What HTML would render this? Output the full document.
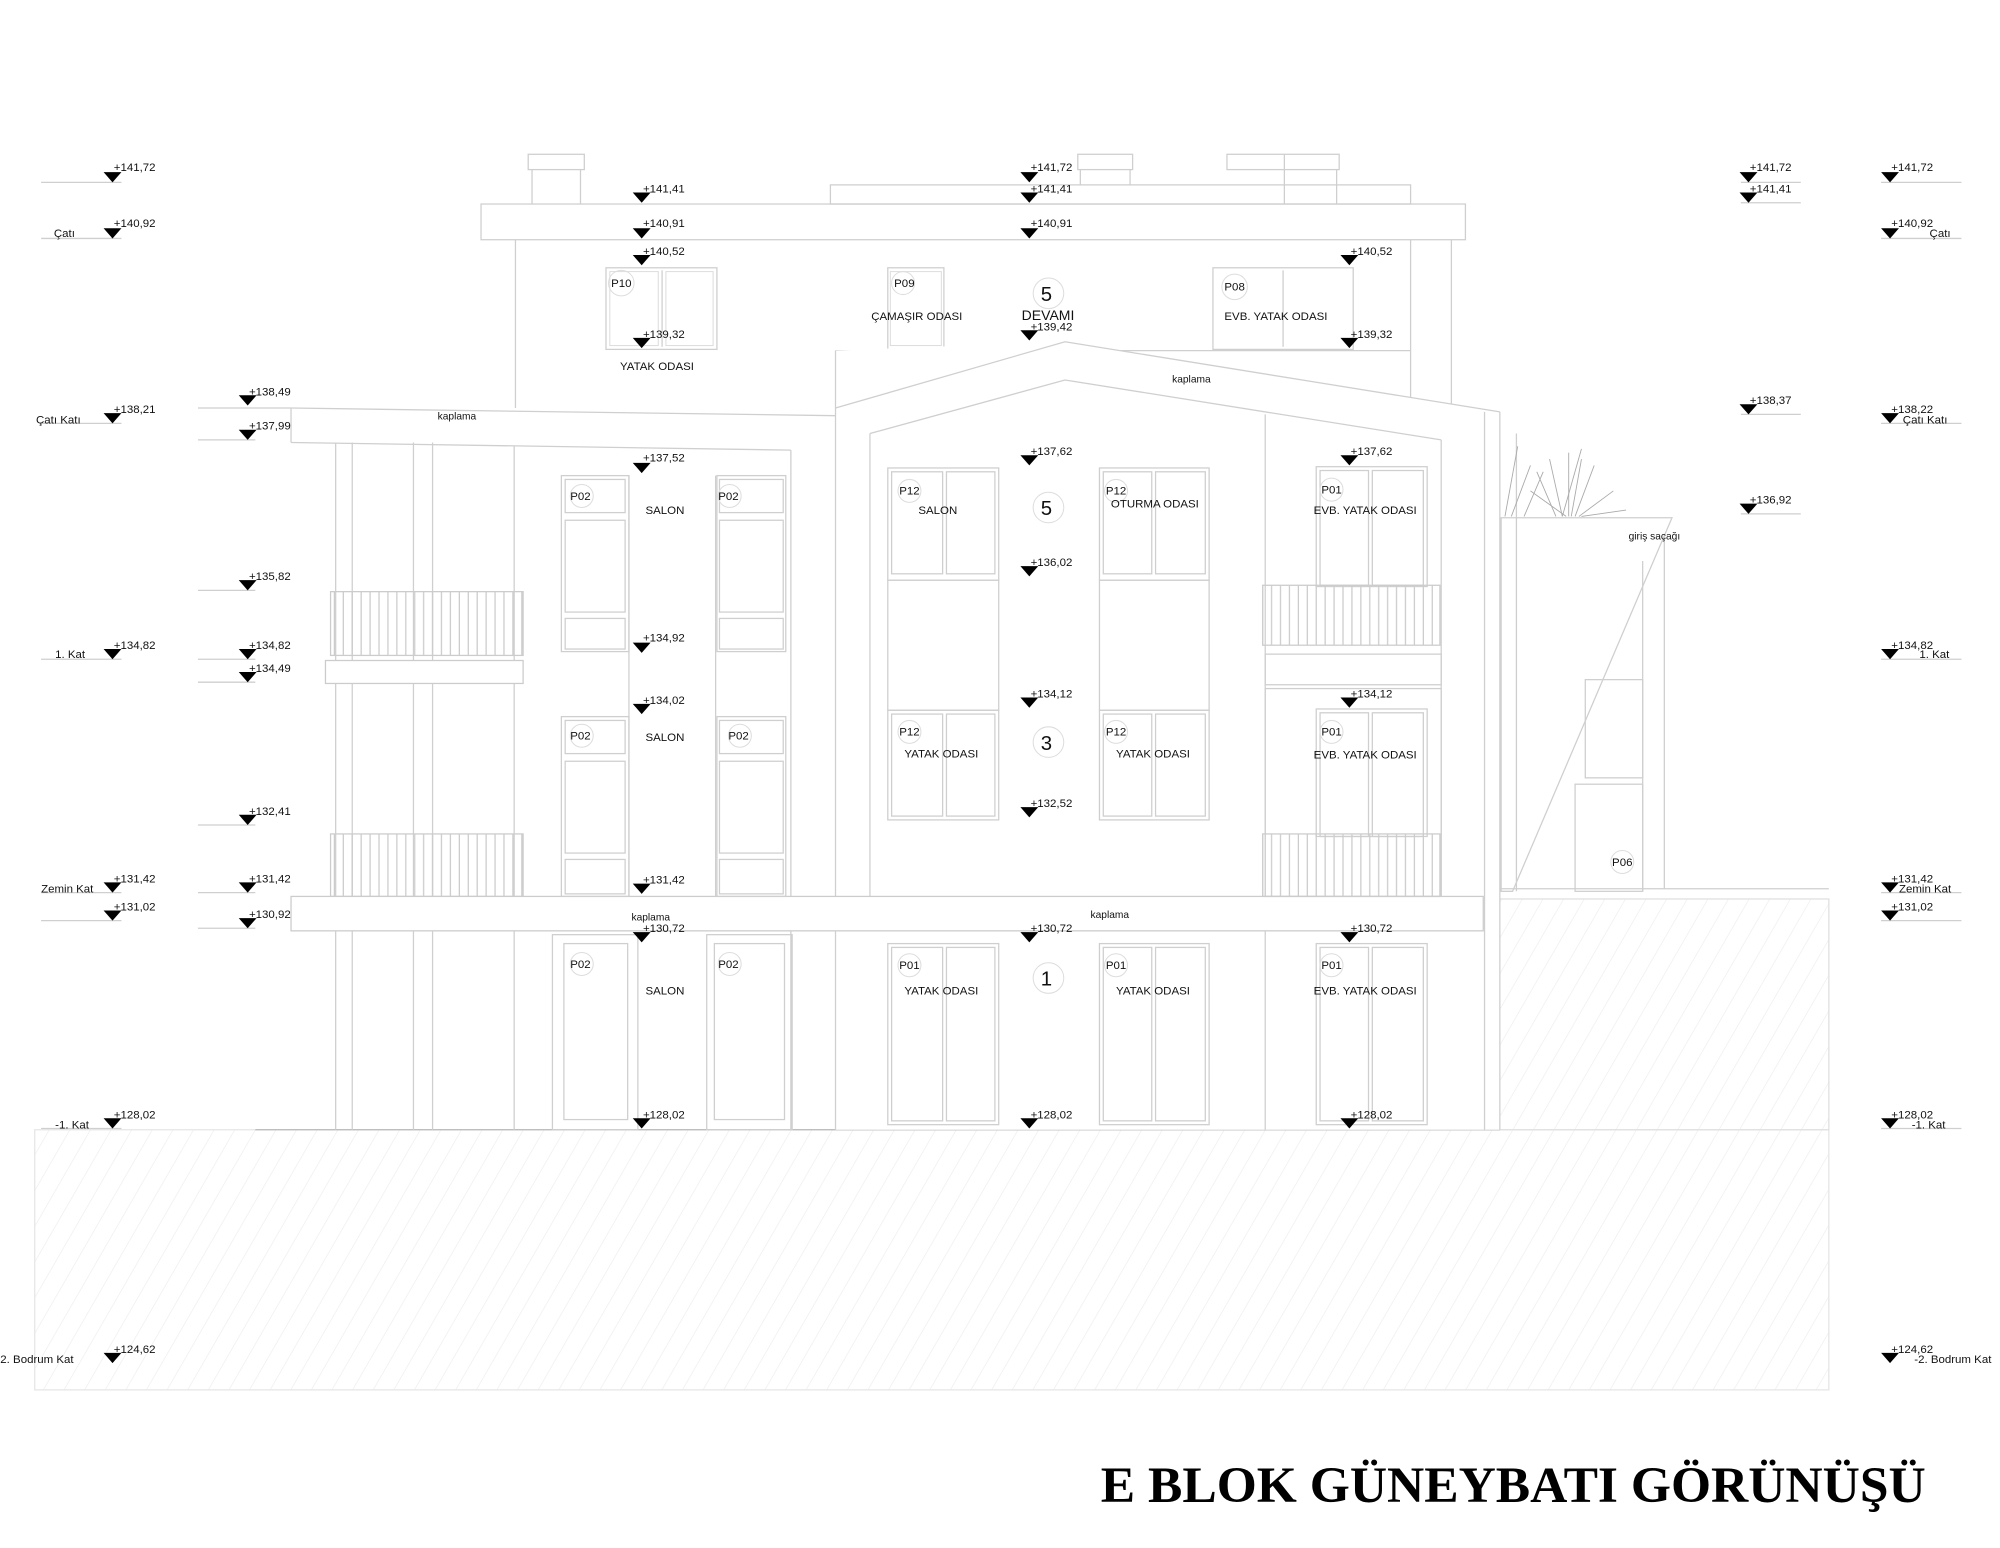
<!DOCTYPE html>
<html><head><meta charset="utf-8"><style>
html,body{margin:0;padding:0;background:#fff}
svg{display:block}
text{font-family:"Liberation Sans",sans-serif;fill:#111}
.l{fill:none;stroke:#cfcfcf;stroke-width:1}
.d{fill:none;stroke:#b8b8b8;stroke-width:1}
.e{font-size:9px}
.r{font-size:9px}
.c{fill:none;stroke:#ddd;stroke-width:.8}
</style></head><body>
<svg width="2000" height="1548" viewBox="0 0 1568 1214" xmlns="http://www.w3.org/2000/svg">
<defs>
<path id="t" d="M-7,-5 L7,-5 L0,3 Z" fill="#000"/>
<pattern id="rail" width="7" height="50" patternUnits="userSpaceOnUse"><line x1="3" y1="0" x2="3" y2="50" stroke="#ccc" stroke-width="1"/></pattern>
<pattern id="hatch" width="14" height="14" patternUnits="userSpaceOnUse" patternTransform="rotate(30)"><line x1="0" y1="0" x2="0" y2="14" stroke="#ececec" stroke-width="1"/></pattern>
</defs>

<!-- ground -->
<rect x="27" y="886" width="1407" height="204" fill="url(#hatch)" stroke="#e6e6e6"/>
<rect x="1163" y="705" width="271" height="181" fill="url(#hatch)" stroke="#e0e0e0"/>
<line x1="1163" y1="697" x2="1434" y2="697" class="l"/>
<line x1="200" y1="886" x2="1176" y2="886" class="d"/>

<!-- chimneys / roof -->
<rect x="414" y="121" width="44" height="12" class="l"/>
<line x1="417" y1="133" x2="417" y2="160" class="l"/><line x1="455" y1="133" x2="455" y2="160" class="l"/>
<rect x="845" y="121" width="43" height="12" class="l"/>
<line x1="847" y1="133" x2="847" y2="145" class="l"/><line x1="886" y1="133" x2="886" y2="145" class="l"/>
<rect x="962" y="121" width="88" height="12" class="l"/>
<line x1="1007" y1="121" x2="1007" y2="160" class="l"/><line x1="1048" y1="133" x2="1048" y2="160" class="l"/>
<rect x="651" y="145" width="455" height="15" class="l"/>
<rect x="377" y="160" width="772" height="28" class="l"/>
<line x1="404" y1="188" x2="404" y2="320" class="l"/>
<line x1="1138" y1="188" x2="1138" y2="320" class="l"/>
<line x1="1106" y1="188" x2="1106" y2="320" class="l"/>

<!-- top floor windows -->
<rect x="475" y="210" width="87" height="64" class="l"/><line x1="519" y1="212" x2="519" y2="272" class="l"/>
<rect x="478" y="213" width="38" height="58" class="c"/><rect x="522" y="213" width="37" height="58" class="c"/>
<circle cx="487" cy="222" r="10" class="c"/><text x="479" y="225" class="r">P10</text>
<text x="486" y="290" class="r">YATAK ODASI</text>
<rect x="696" y="210" width="44" height="64" class="l"/><rect x="698" y="213" width="40" height="58" class="c"/>
<circle cx="708" cy="222" r="9" class="c"/><text x="701" y="225" class="r">P09</text>
<text x="683" y="251" class="r">ÇAMAŞIR ODASI</text>
<circle cx="822" cy="230" r="12" class="c"/><text x="816" y="236" style="font-size:16px">5</text>
<text x="801" y="251" style="font-size:11px">DEVAMI</text>
<rect x="951" y="210" width="110" height="64" class="l"/><line x1="1006" y1="212" x2="1006" y2="272" class="l"/>
<circle cx="968" cy="225" r="10" class="c"/><text x="960" y="228" class="r">P08</text>
<text x="960" y="251" class="r">EVB. YATAK ODASI</text>
<line x1="655" y1="275" x2="1106" y2="275" class="l"/>

<!-- gable -->
<polygon points="655,320 655,275 835,268 1176,323 1176,886 655,886" fill="#fff" stroke="none"/>
<polyline points="655,320 835,268 1176,323" class="l"/>
<polyline points="682,340 835,298 1130,345" class="l"/>
<line x1="655" y1="275" x2="655" y2="886" class="l"/>
<line x1="1164" y1="323" x2="1164" y2="886" class="l"/><line x1="1176" y1="323" x2="1176" y2="886" class="l"/>
<line x1="682" y1="340" x2="682" y2="703" class="l"/>
<line x1="1130" y1="345" x2="1130" y2="703" class="l"/>
<line x1="992" y1="325" x2="992" y2="886" class="l"/>
<text x="919" y="300" style="font-size:8px">kaplama</text>

<!-- left slab -->
<polygon points="155,320 228,320 653,325 620,326 620,353 228,347 155,347" fill="#fff" stroke="none"/>
<line x1="155" y1="320" x2="228" y2="320" class="l"/>
<line x1="228" y1="320" x2="655" y2="326" class="l"/>
<line x1="228" y1="347" x2="620" y2="353" class="l"/>
<line x1="228" y1="320" x2="228" y2="347" class="l"/>
<text x="343" y="329" style="font-size:8px">kaplama</text>

<!-- left wing columns -->
<line x1="263" y1="347" x2="263" y2="886" class="l"/><line x1="276" y1="347" x2="276" y2="886" class="l"/>
<line x1="324" y1="347" x2="324" y2="886" class="l"/><line x1="339" y1="347" x2="339" y2="886" class="l"/>
<line x1="403" y1="350" x2="403" y2="886" class="l"/><line x1="620" y1="353" x2="620" y2="886" class="l"/>
<!-- balconies left -->
<rect x="259" y="464" width="151" height="50" fill="url(#rail)" stroke="#ccc"/>
<rect x="255" y="518" width="155" height="18" fill="#fff" stroke="#ccc"/>
<rect x="259" y="654" width="151" height="49" fill="url(#rail)" stroke="#ccc"/>
<!-- floor band -->
<rect x="228" y="703" width="935" height="27" fill="#fff" stroke="#ccc"/>
<text x="495" y="722" style="font-size:8px">kaplama</text>
<text x="855" y="720" style="font-size:8px">kaplama</text>

<!-- salon windows left wing -->
<g class="l">
<rect x="440" y="373" width="53" height="138"/><rect x="443" y="376" width="47" height="26"/><rect x="443" y="408" width="47" height="72"/><rect x="443" y="485" width="47" height="24"/>
<rect x="562" y="373" width="54" height="138"/><rect x="564" y="376" width="50" height="26"/><rect x="564" y="408" width="50" height="72"/><rect x="564" y="485" width="50" height="24"/>
<rect x="440" y="562" width="53" height="141"/><rect x="443" y="565" width="47" height="26"/><rect x="443" y="597" width="47" height="72"/><rect x="443" y="674" width="47" height="27"/>
<rect x="562" y="562" width="54" height="141"/><rect x="564" y="565" width="50" height="26"/><rect x="564" y="597" width="50" height="72"/><rect x="564" y="674" width="50" height="27"/>
<rect x="433" y="733" width="67" height="153"/><rect x="442" y="740" width="50" height="138"/>
<rect x="554" y="733" width="67" height="153"/><rect x="560" y="740" width="55" height="138"/>
</g>
<line x1="493" y1="373" x2="493" y2="703" class="l"/><line x1="561" y1="373" x2="561" y2="703" class="l"/>
<circle cx="456" cy="389" r="9" class="c"/><text x="447" y="392" class="r">P02</text>
<circle cx="572" cy="389" r="9" class="c"/><text x="563" y="392" class="r">P02</text>
<text x="506" y="403" class="r">SALON</text>
<circle cx="456" cy="577" r="9" class="c"/><text x="447" y="580" class="r">P02</text>
<circle cx="580" cy="577" r="9" class="c"/><text x="571" y="580" class="r">P02</text>
<text x="506" y="581" class="r">SALON</text>
<circle cx="456" cy="756" r="9" class="c"/><text x="447" y="759" class="r">P02</text>
<circle cx="572" cy="756" r="9" class="c"/><text x="563" y="759" class="r">P02</text>
<text x="506" y="780" class="r">SALON</text>

<!-- center windows -->
<g class="l">
<rect x="696" y="367" width="87" height="88"/><rect x="699" y="370" width="40" height="80"/><rect x="742" y="370" width="38" height="80"/>
<rect x="862" y="367" width="86" height="88"/><rect x="865" y="370" width="38" height="80"/><rect x="906" y="370" width="39" height="80"/>
<rect x="696" y="455" width="87" height="102"/><rect x="862" y="455" width="86" height="102"/>
<rect x="696" y="557" width="87" height="86"/><rect x="699" y="560" width="40" height="80"/><rect x="742" y="560" width="38" height="80"/>
<rect x="862" y="557" width="86" height="86"/><rect x="865" y="560" width="38" height="80"/><rect x="906" y="560" width="39" height="80"/>
<rect x="696" y="740" width="87" height="142"/><rect x="699" y="743" width="40" height="136"/><rect x="742" y="743" width="38" height="136"/>
<rect x="862" y="740" width="86" height="142"/><rect x="865" y="743" width="38" height="136"/><rect x="906" y="743" width="39" height="136"/>
<rect x="1032" y="366" width="87" height="94"/><rect x="1035" y="369" width="38" height="90"/><rect x="1076" y="369" width="40" height="90"/>
<rect x="992" y="513" width="138" height="24"/><rect x="992" y="540" width="138" height="163"/>
<rect x="1032" y="556" width="87" height="100"/><rect x="1035" y="559" width="38" height="97"/><rect x="1076" y="559" width="40" height="97"/>
<rect x="1032" y="740" width="87" height="142"/><rect x="1035" y="743" width="38" height="136"/><rect x="1076" y="743" width="40" height="136"/>
</g>
<rect x="990" y="459" width="139" height="47" fill="url(#rail)" stroke="#ccc"/>
<rect x="990" y="654" width="139" height="49" fill="url(#rail)" stroke="#ccc"/>
<circle cx="713" cy="385" r="9" class="c"/><text x="705" y="388" class="r">P12</text><text x="720" y="403" class="r">SALON</text>
<circle cx="875" cy="385" r="9" class="c"/><text x="867" y="388" class="r">P12</text><text x="871" y="398" class="r">OTURMA ODASI</text>
<circle cx="1044" cy="384" r="9" class="c"/><text x="1036" y="387" class="r">P01</text><text x="1030" y="403" class="r">EVB. YATAK ODASI</text>
<circle cx="822" cy="398" r="12" class="c"/><text x="816" y="404" style="font-size:16px">5</text>
<circle cx="713" cy="574" r="9" class="c"/><text x="705" y="577" class="r">P12</text><text x="709" y="594" class="r">YATAK ODASI</text>
<circle cx="875" cy="574" r="9" class="c"/><text x="867" y="577" class="r">P12</text><text x="875" y="594" class="r">YATAK ODASI</text>
<circle cx="1044" cy="574" r="9" class="c"/><text x="1036" y="577" class="r">P01</text><text x="1030" y="595" class="r">EVB. YATAK ODASI</text>
<circle cx="822" cy="582" r="12" class="c"/><text x="816" y="588" style="font-size:16px">3</text>
<circle cx="713" cy="757" r="9" class="c"/><text x="705" y="760" class="r">P01</text><text x="709" y="780" class="r">YATAK ODASI</text>
<circle cx="875" cy="757" r="9" class="c"/><text x="867" y="760" class="r">P01</text><text x="875" y="780" class="r">YATAK ODASI</text>
<circle cx="1044" cy="757" r="9" class="c"/><text x="1036" y="760" class="r">P01</text><text x="1030" y="780" class="r">EVB. YATAK ODASI</text>
<circle cx="822" cy="767" r="12" class="c"/><text x="816" y="773" style="font-size:16px">1</text>

<!-- entrance canopy -->
<polygon points="1177,406 1311,406 1186,699 1177,699" fill="#fff" class="l"/>
<line x1="1189" y1="340" x2="1189" y2="699" class="l"/>
<rect x="1235" y="615" width="53" height="84" class="l"/><rect x="1243" y="533" width="45" height="77" class="l"/>
<line x1="1288" y1="440" x2="1288" y2="699" class="l"/><line x1="1305" y1="420" x2="1305" y2="697" class="l"/>
<circle cx="1272" cy="676" r="9" class="c"/><text x="1264" y="679" class="r">P06</text>
<text x="1277" y="423" style="font-size:8px">giriş saçağı</text>
<g stroke="#aaa" stroke-width=".7">
<line x1="1180" y1="405" x2="1190" y2="350"/><line x1="1185" y1="405" x2="1200" y2="365"/><line x1="1195" y1="405" x2="1210" y2="370"/>
<line x1="1220" y1="405" x2="1205" y2="370"/><line x1="1225" y1="405" x2="1215" y2="360"/><line x1="1230" y1="405" x2="1230" y2="355"/>
<line x1="1232" y1="405" x2="1240" y2="360"/><line x1="1235" y1="405" x2="1250" y2="365"/><line x1="1238" y1="405" x2="1265" y2="385"/>
<line x1="1240" y1="405" x2="1275" y2="400"/><line x1="1228" y1="405" x2="1200" y2="385"/><line x1="1225" y1="405" x2="1240" y2="352"/>
</g>

<!-- level markers -->
<g class="e">
<!-- col 1 -->
<g class="l"><line x1="32" y1="143" x2="95" y2="143"/><line x1="32" y1="187" x2="95" y2="187"/><line x1="32" y1="332" x2="95" y2="332"/><line x1="32" y1="517" x2="95" y2="517"/><line x1="32" y1="700" x2="95" y2="700"/><line x1="32" y1="722" x2="95" y2="722"/><line x1="32" y1="885" x2="95" y2="885"/></g>
<use href="#t" x="88" y="140"/><text x="89" y="134">+141,72</text>
<use href="#t" x="88" y="184"/><text x="89" y="178">+140,92</text><text x="42" y="186">Çatı</text>
<use href="#t" x="88" y="329"/><text x="89" y="324">+138,21</text><text x="28" y="332">Çatı Katı</text>
<use href="#t" x="88" y="514"/><text x="89" y="509">+134,82</text><text x="43" y="516">1. Kat</text>
<use href="#t" x="88" y="697"/><text x="89" y="692">+131,42</text><text x="32" y="700">Zemin Kat</text>
<use href="#t" x="88" y="719"/><text x="89" y="714">+131,02</text>
<use href="#t" x="88" y="882"/><text x="89" y="877">+128,02</text><text x="43" y="885">-1. Kat</text>
<use href="#t" x="88" y="1066"/><text x="89" y="1061">+124,62</text><text x="0" y="1069">2. Bodrum Kat</text>
<!-- col 2 -->
<g class="l"><line x1="155" y1="345" x2="200" y2="345"/><line x1="155" y1="463" x2="200" y2="463"/><line x1="155" y1="517" x2="200" y2="517"/><line x1="155" y1="535" x2="200" y2="535"/><line x1="155" y1="647" x2="200" y2="647"/><line x1="155" y1="700" x2="200" y2="700"/><line x1="155" y1="728" x2="200" y2="728"/></g>
<use href="#t" x="194" y="315"/><text x="195" y="310">+138,49</text>
<use href="#t" x="194" y="342"/><text x="195" y="337">+137,99</text>
<use href="#t" x="194" y="460"/><text x="195" y="455">+135,82</text>
<use href="#t" x="194" y="514"/><text x="195" y="509">+134,82</text>
<use href="#t" x="194" y="532"/><text x="195" y="527">+134,49</text>
<use href="#t" x="194" y="644"/><text x="195" y="639">+132,41</text>
<use href="#t" x="194" y="697"/><text x="195" y="692">+131,42</text>
<use href="#t" x="194" y="725"/><text x="195" y="720">+130,92</text>
<!-- col 3 -->
<use href="#t" x="503" y="156"/><text x="504" y="151">+141,41</text>
<use href="#t" x="503" y="184"/><text x="504" y="178">+140,91</text>
<use href="#t" x="503" y="205"/><text x="504" y="200">+140,52</text>
<use href="#t" x="503" y="270"/><text x="504" y="265">+139,32</text>
<use href="#t" x="503" y="368"/><text x="504" y="362">+137,52</text>
<use href="#t" x="503" y="509"/><text x="504" y="503">+134,92</text>
<use href="#t" x="503" y="557"/><text x="504" y="552">+134,02</text>
<use href="#t" x="503" y="698"/><text x="504" y="693">+131,42</text>
<use href="#t" x="503" y="736"/><text x="504" y="731">+130,72</text>
<use href="#t" x="503" y="882"/><text x="504" y="877">+128,02</text>
<!-- col 4 -->
<use href="#t" x="807" y="140"/><text x="808" y="134">+141,72</text>
<use href="#t" x="807" y="156"/><text x="808" y="151">+141,41</text>
<use href="#t" x="807" y="184"/><text x="808" y="178">+140,91</text>
<use href="#t" x="807" y="264"/><text x="808" y="259">+139,42</text>
<use href="#t" x="807" y="362"/><text x="808" y="357">+137,62</text>
<use href="#t" x="807" y="449"/><text x="808" y="444">+136,02</text>
<use href="#t" x="807" y="552"/><text x="808" y="547">+134,12</text>
<use href="#t" x="807" y="638"/><text x="808" y="633">+132,52</text>
<use href="#t" x="807" y="736"/><text x="808" y="731">+130,72</text>
<use href="#t" x="807" y="882"/><text x="808" y="877">+128,02</text>
<!-- col 5 -->
<use href="#t" x="1058" y="205"/><text x="1059" y="200">+140,52</text>
<use href="#t" x="1058" y="270"/><text x="1059" y="265">+139,32</text>
<use href="#t" x="1058" y="362"/><text x="1059" y="357">+137,62</text>
<use href="#t" x="1058" y="552"/><text x="1059" y="547">+134,12</text>
<use href="#t" x="1058" y="736"/><text x="1059" y="731">+130,72</text>
<use href="#t" x="1058" y="882"/><text x="1059" y="877">+128,02</text>
<!-- col 6 -->
<g class="l"><line x1="1365" y1="143" x2="1412" y2="143"/><line x1="1365" y1="159" x2="1412" y2="159"/><line x1="1365" y1="325" x2="1412" y2="325"/><line x1="1365" y1="403" x2="1412" y2="403"/></g>
<use href="#t" x="1371" y="140"/><text x="1372" y="134">+141,72</text>
<use href="#t" x="1371" y="156"/><text x="1372" y="151">+141,41</text>
<use href="#t" x="1371" y="322"/><text x="1372" y="317">+138,37</text>
<use href="#t" x="1371" y="400"/><text x="1372" y="395">+136,92</text>
<!-- col 7 -->
<g class="l"><line x1="1475" y1="143" x2="1538" y2="143"/><line x1="1475" y1="187" x2="1538" y2="187"/><line x1="1475" y1="332" x2="1538" y2="332"/><line x1="1475" y1="517" x2="1538" y2="517"/><line x1="1475" y1="700" x2="1538" y2="700"/><line x1="1475" y1="722" x2="1538" y2="722"/><line x1="1475" y1="885" x2="1538" y2="885"/></g>
<use href="#t" x="1482" y="140"/><text x="1483" y="134">+141,72</text>
<use href="#t" x="1482" y="184"/><text x="1483" y="178">+140,92</text><text x="1513" y="186">Çatı</text>
<use href="#t" x="1482" y="329"/><text x="1483" y="324">+138,22</text><text x="1492" y="332">Çatı Katı</text>
<use href="#t" x="1482" y="514"/><text x="1483" y="509">+134,82</text><text x="1505" y="516">1. Kat</text>
<use href="#t" x="1482" y="697"/><text x="1483" y="692">+131,42</text><text x="1489" y="700">Zemin Kat</text>
<use href="#t" x="1482" y="719"/><text x="1483" y="714">+131,02</text>
<use href="#t" x="1482" y="882"/><text x="1483" y="877">+128,02</text><text x="1499" y="885">-1. Kat</text>
<use href="#t" x="1482" y="1066"/><text x="1483" y="1061">+124,62</text><text x="1501" y="1069">-2. Bodrum Kat</text>
</g>

<text x="863" y="1178" textLength="647" lengthAdjust="spacingAndGlyphs" style="font-family:'Liberation Serif',serif;font-weight:bold;font-size:40px;fill:#000">E BLOK GÜNEYBATI GÖRÜNÜŞÜ</text>
</svg>
</body></html>
